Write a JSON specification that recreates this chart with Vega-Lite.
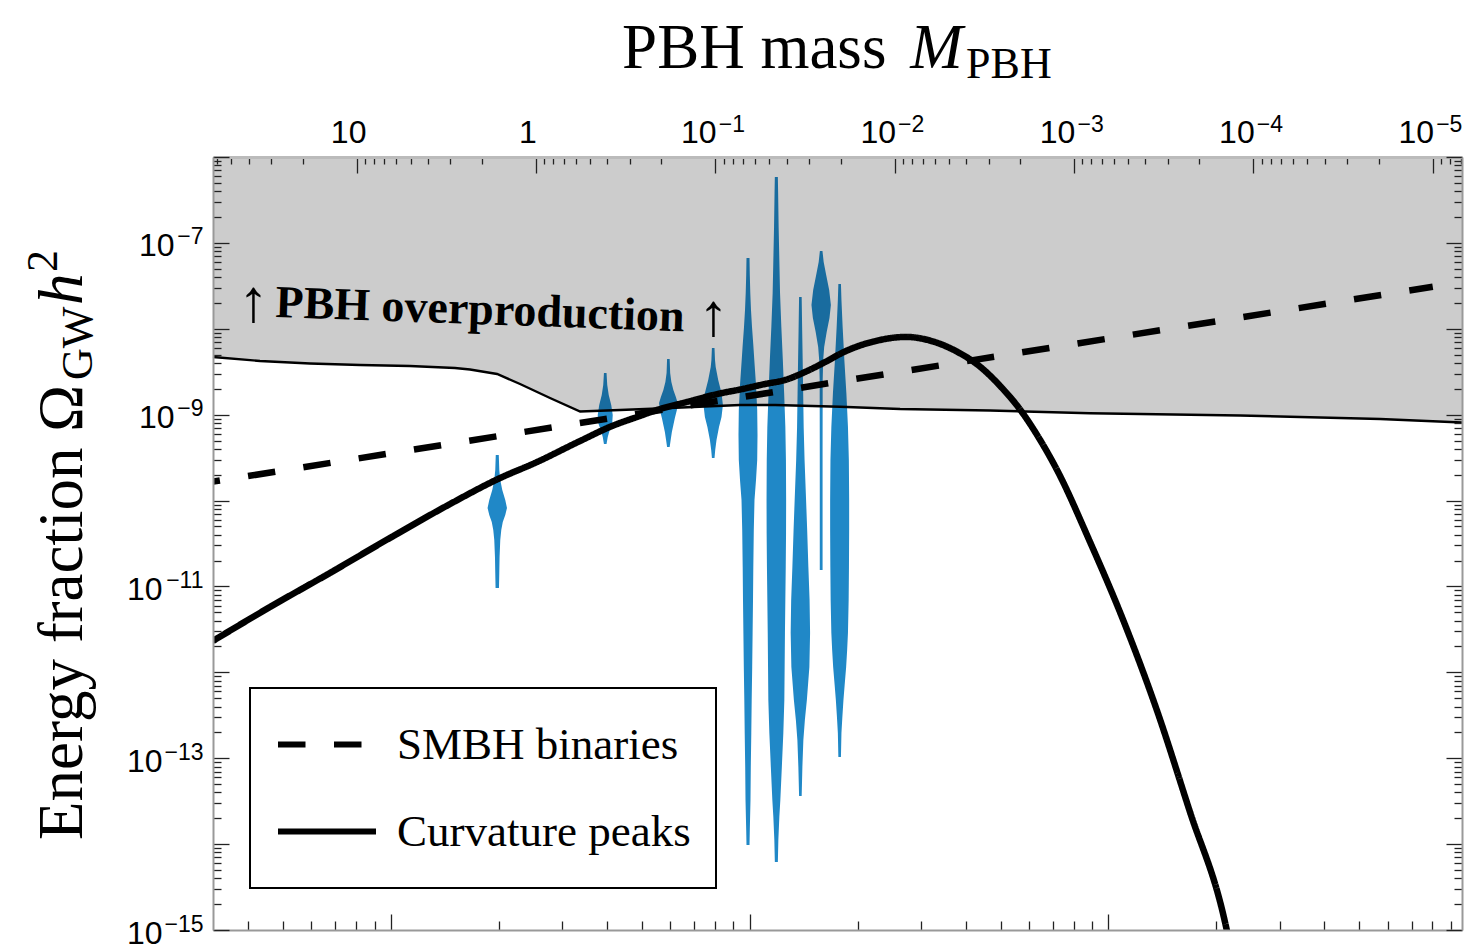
{
  "$schema": "https://vega.github.io/schema/vega-lite/v6.json",
  "width": 1249,
  "height": 773,
  "autosize": {"type": "none"},
  "padding": {"left": 213, "top": 157, "right": 10, "bottom": 15},
  "background": "white",
  "config": {"view": {"stroke": null}, "axis": {"grid": false}},
  "resolve": {"axis": {"x": "independent", "y": "independent"}},
  "datasets": {
    "violins": [
      {"violin": 1, "log10_Omega": -9.469, "log10_M_max": 0.2244, "log10_M_min": 0.2076},
      {"violin": 1, "log10_Omega": -9.644, "log10_M_max": 0.2272, "log10_M_min": 0.2048},
      {"violin": 1, "log10_Omega": -9.760, "log10_M_max": 0.2327, "log10_M_min": 0.1993},
      {"violin": 1, "log10_Omega": -9.877, "log10_M_max": 0.2439, "log10_M_min": 0.1881},
      {"violin": 1, "log10_Omega": -9.993, "log10_M_max": 0.2606, "log10_M_min": 0.1714},
      {"violin": 1, "log10_Omega": -10.086, "log10_M_max": 0.2701, "log10_M_min": 0.1619},
      {"violin": 1, "log10_Omega": -10.168, "log10_M_max": 0.2606, "log10_M_min": 0.1714},
      {"violin": 1, "log10_Omega": -10.249, "log10_M_max": 0.2467, "log10_M_min": 0.1853},
      {"violin": 1, "log10_Omega": -10.342, "log10_M_max": 0.2383, "log10_M_min": 0.1937},
      {"violin": 1, "log10_Omega": -10.459, "log10_M_max": 0.2327, "log10_M_min": 0.1993},
      {"violin": 1, "log10_Omega": -10.657, "log10_M_max": 0.2288, "log10_M_min": 0.2032},
      {"violin": 1, "log10_Omega": -10.843, "log10_M_max": 0.2272, "log10_M_min": 0.2048},
      {"violin": 1, "log10_Omega": -11.018, "log10_M_max": 0.2255, "log10_M_min": 0.2065},

      {"violin": 2, "log10_Omega": -8.515, "log10_M_max": -0.3788, "log10_M_min": -0.3932},
      {"violin": 2, "log10_Omega": -8.654, "log10_M_max": -0.3748, "log10_M_min": -0.3972},
      {"violin": 2, "log10_Omega": -8.771, "log10_M_max": -0.3665, "log10_M_min": -0.4055},
      {"violin": 2, "log10_Omega": -8.887, "log10_M_max": -0.3525, "log10_M_min": -0.4195},
      {"violin": 2, "log10_Omega": -9.004, "log10_M_max": -0.3442, "log10_M_min": -0.4278},
      {"violin": 2, "log10_Omega": -9.097, "log10_M_max": -0.3470, "log10_M_min": -0.4250},
      {"violin": 2, "log10_Omega": -9.178, "log10_M_max": -0.3609, "log10_M_min": -0.4111},
      {"violin": 2, "log10_Omega": -9.260, "log10_M_max": -0.3721, "log10_M_min": -0.3999},
      {"violin": 2, "log10_Omega": -9.341, "log10_M_max": -0.3788, "log10_M_min": -0.3932},

      {"violin": 3, "log10_Omega": -8.352, "log10_M_max": -0.7308, "log10_M_min": -0.7452},
      {"violin": 3, "log10_Omega": -8.515, "log10_M_max": -0.7280, "log10_M_min": -0.7480},
      {"violin": 3, "log10_Omega": -8.619, "log10_M_max": -0.7213, "log10_M_min": -0.7547},
      {"violin": 3, "log10_Omega": -8.712, "log10_M_max": -0.7101, "log10_M_min": -0.7659},
      {"violin": 3, "log10_Omega": -8.794, "log10_M_max": -0.6962, "log10_M_min": -0.7798},
      {"violin": 3, "log10_Omega": -8.864, "log10_M_max": -0.6861, "log10_M_min": -0.7899},
      {"violin": 3, "log10_Omega": -8.945, "log10_M_max": -0.6906, "log10_M_min": -0.7854},
      {"violin": 3, "log10_Omega": -9.038, "log10_M_max": -0.7018, "log10_M_min": -0.7742},
      {"violin": 3, "log10_Omega": -9.120, "log10_M_max": -0.7101, "log10_M_min": -0.7659},
      {"violin": 3, "log10_Omega": -9.201, "log10_M_max": -0.7185, "log10_M_min": -0.7575},
      {"violin": 3, "log10_Omega": -9.295, "log10_M_max": -0.7252, "log10_M_min": -0.7508},
      {"violin": 3, "log10_Omega": -9.376, "log10_M_max": -0.7308, "log10_M_min": -0.7452},

      {"violin": 4, "log10_Omega": -8.224, "log10_M_max": -0.9808, "log10_M_min": -0.9952},
      {"violin": 4, "log10_Omega": -8.363, "log10_M_max": -0.9780, "log10_M_min": -0.9980},
      {"violin": 4, "log10_Omega": -8.445, "log10_M_max": -0.9741, "log10_M_min": -1.0019},
      {"violin": 4, "log10_Omega": -8.596, "log10_M_max": -0.9601, "log10_M_min": -1.0159},
      {"violin": 4, "log10_Omega": -8.747, "log10_M_max": -0.9417, "log10_M_min": -1.0343},
      {"violin": 4, "log10_Omega": -8.887, "log10_M_max": -0.9339, "log10_M_min": -1.0421},
      {"violin": 4, "log10_Omega": -9.027, "log10_M_max": -0.9417, "log10_M_min": -1.0343},
      {"violin": 4, "log10_Omega": -9.143, "log10_M_max": -0.9557, "log10_M_min": -1.0203},
      {"violin": 4, "log10_Omega": -9.295, "log10_M_max": -0.9696, "log10_M_min": -1.0064},
      {"violin": 4, "log10_Omega": -9.411, "log10_M_max": -0.9768, "log10_M_min": -0.9992},
      {"violin": 4, "log10_Omega": -9.504, "log10_M_max": -0.9808, "log10_M_min": -0.9952},

      {"violin": 5, "log10_Omega": -7.176, "log10_M_max": -1.1736, "log10_M_min": -1.1904},
      {"violin": 5, "log10_Omega": -7.374, "log10_M_max": -1.1720, "log10_M_min": -1.1920},
      {"violin": 5, "log10_Omega": -7.583, "log10_M_max": -1.1692, "log10_M_min": -1.1948},
      {"violin": 5, "log10_Omega": -7.781, "log10_M_max": -1.1653, "log10_M_min": -1.1987},
      {"violin": 5, "log10_Omega": -7.979, "log10_M_max": -1.1597, "log10_M_min": -1.2043},
      {"violin": 5, "log10_Omega": -8.189, "log10_M_max": -1.1524, "log10_M_min": -1.2116},
      {"violin": 5, "log10_Omega": -8.363, "log10_M_max": -1.1469, "log10_M_min": -1.2171},
      {"violin": 5, "log10_Omega": -8.654, "log10_M_max": -1.1374, "log10_M_min": -1.2266},
      {"violin": 5, "log10_Omega": -8.945, "log10_M_max": -1.1307, "log10_M_min": -1.2333},
      {"violin": 5, "log10_Omega": -9.236, "log10_M_max": -1.1290, "log10_M_min": -1.2350},
      {"violin": 5, "log10_Omega": -9.527, "log10_M_max": -1.1307, "log10_M_min": -1.2333},
      {"violin": 5, "log10_Omega": -9.760, "log10_M_max": -1.1374, "log10_M_min": -1.2266},
      {"violin": 5, "log10_Omega": -9.993, "log10_M_max": -1.1458, "log10_M_min": -1.2182},
      {"violin": 5, "log10_Omega": -10.342, "log10_M_max": -1.1497, "log10_M_min": -1.2143},
      {"violin": 5, "log10_Omega": -10.773, "log10_M_max": -1.1524, "log10_M_min": -1.2116},
      {"violin": 5, "log10_Omega": -11.157, "log10_M_max": -1.1541, "log10_M_min": -1.2099},
      {"violin": 5, "log10_Omega": -11.541, "log10_M_max": -1.1563, "log10_M_min": -1.2077},
      {"violin": 5, "log10_Omega": -11.937, "log10_M_max": -1.1586, "log10_M_min": -1.2054},
      {"violin": 5, "log10_Omega": -12.321, "log10_M_max": -1.1614, "log10_M_min": -1.2026},
      {"violin": 5, "log10_Omega": -12.705, "log10_M_max": -1.1636, "log10_M_min": -1.2004},
      {"violin": 5, "log10_Omega": -13.101, "log10_M_max": -1.1664, "log10_M_min": -1.1976},
      {"violin": 5, "log10_Omega": -13.485, "log10_M_max": -1.1681, "log10_M_min": -1.1959},
      {"violin": 5, "log10_Omega": -13.835, "log10_M_max": -1.1720, "log10_M_min": -1.1920},
      {"violin": 5, "log10_Omega": -14.009, "log10_M_max": -1.1736, "log10_M_min": -1.1904},

      {"violin": 6, "log10_Omega": -6.233, "log10_M_max": -1.3316, "log10_M_min": -1.3484},
      {"violin": 6, "log10_Omega": -6.419, "log10_M_max": -1.3300, "log10_M_min": -1.3500},
      {"violin": 6, "log10_Omega": -6.815, "log10_M_max": -1.3272, "log10_M_min": -1.3528},
      {"violin": 6, "log10_Omega": -7.199, "log10_M_max": -1.3233, "log10_M_min": -1.3567},
      {"violin": 6, "log10_Omega": -7.583, "log10_M_max": -1.3194, "log10_M_min": -1.3606},
      {"violin": 6, "log10_Omega": -7.979, "log10_M_max": -1.3121, "log10_M_min": -1.3679},
      {"violin": 6, "log10_Omega": -8.363, "log10_M_max": -1.3038, "log10_M_min": -1.3762},
      {"violin": 6, "log10_Omega": -8.747, "log10_M_max": -1.2965, "log10_M_min": -1.3835},
      {"violin": 6, "log10_Omega": -9.143, "log10_M_max": -1.2898, "log10_M_min": -1.3902},
      {"violin": 6, "log10_Omega": -9.527, "log10_M_max": -1.2865, "log10_M_min": -1.3935},
      {"violin": 6, "log10_Omega": -9.993, "log10_M_max": -1.2854, "log10_M_min": -1.3946},
      {"violin": 6, "log10_Omega": -10.377, "log10_M_max": -1.2859, "log10_M_min": -1.3941},
      {"violin": 6, "log10_Omega": -10.773, "log10_M_max": -1.2876, "log10_M_min": -1.3924},
      {"violin": 6, "log10_Omega": -11.157, "log10_M_max": -1.2898, "log10_M_min": -1.3902},
      {"violin": 6, "log10_Omega": -11.541, "log10_M_max": -1.2920, "log10_M_min": -1.3880},
      {"violin": 6, "log10_Omega": -11.937, "log10_M_max": -1.2937, "log10_M_min": -1.3863},
      {"violin": 6, "log10_Omega": -12.321, "log10_M_max": -1.2954, "log10_M_min": -1.3846},
      {"violin": 6, "log10_Omega": -12.705, "log10_M_max": -1.3010, "log10_M_min": -1.3790},
      {"violin": 6, "log10_Omega": -13.101, "log10_M_max": -1.3093, "log10_M_min": -1.3707},
      {"violin": 6, "log10_Omega": -13.485, "log10_M_max": -1.3177, "log10_M_min": -1.3623},
      {"violin": 6, "log10_Omega": -13.683, "log10_M_max": -1.3233, "log10_M_min": -1.3567},
      {"violin": 6, "log10_Omega": -13.951, "log10_M_max": -1.3288, "log10_M_min": -1.3512},
      {"violin": 6, "log10_Omega": -14.207, "log10_M_max": -1.3316, "log10_M_min": -1.3484},

      {"violin": 7, "log10_Omega": -7.630, "log10_M_max": -1.4668, "log10_M_min": -1.4812},
      {"violin": 7, "log10_Omega": -8.014, "log10_M_max": -1.4640, "log10_M_min": -1.4840},
      {"violin": 7, "log10_Omega": -8.363, "log10_M_max": -1.4612, "log10_M_min": -1.4868},
      {"violin": 7, "log10_Omega": -8.747, "log10_M_max": -1.4584, "log10_M_min": -1.4896},
      {"violin": 7, "log10_Omega": -9.143, "log10_M_max": -1.4556, "log10_M_min": -1.4924},
      {"violin": 7, "log10_Omega": -9.527, "log10_M_max": -1.4506, "log10_M_min": -1.4974},
      {"violin": 7, "log10_Omega": -9.993, "log10_M_max": -1.4422, "log10_M_min": -1.5058},
      {"violin": 7, "log10_Omega": -10.342, "log10_M_max": -1.4361, "log10_M_min": -1.5119},
      {"violin": 7, "log10_Omega": -10.773, "log10_M_max": -1.4294, "log10_M_min": -1.5186},
      {"violin": 7, "log10_Omega": -11.157, "log10_M_max": -1.4227, "log10_M_min": -1.5253},
      {"violin": 7, "log10_Omega": -11.541, "log10_M_max": -1.4199, "log10_M_min": -1.5281},
      {"violin": 7, "log10_Omega": -11.937, "log10_M_max": -1.4238, "log10_M_min": -1.5242},
      {"violin": 7, "log10_Omega": -12.321, "log10_M_max": -1.4378, "log10_M_min": -1.5102},
      {"violin": 7, "log10_Omega": -12.554, "log10_M_max": -1.4489, "log10_M_min": -1.4991},
      {"violin": 7, "log10_Omega": -12.787, "log10_M_max": -1.4573, "log10_M_min": -1.4907},
      {"violin": 7, "log10_Omega": -13.101, "log10_M_max": -1.4628, "log10_M_min": -1.4852},
      {"violin": 7, "log10_Omega": -13.439, "log10_M_max": -1.4668, "log10_M_min": -1.4812},

      {"violin": 8, "log10_Omega": -7.094, "log10_M_max": -1.5828, "log10_M_min": -1.5972},
      {"violin": 8, "log10_Omega": -7.222, "log10_M_max": -1.5761, "log10_M_min": -1.6039},
      {"violin": 8, "log10_Omega": -7.374, "log10_M_max": -1.5621, "log10_M_min": -1.6179},
      {"violin": 8, "log10_Omega": -7.548, "log10_M_max": -1.5454, "log10_M_min": -1.6346},
      {"violin": 8, "log10_Omega": -7.723, "log10_M_max": -1.5359, "log10_M_min": -1.6441},
      {"violin": 8, "log10_Omega": -7.874, "log10_M_max": -1.5437, "log10_M_min": -1.6363},
      {"violin": 8, "log10_Omega": -8.037, "log10_M_max": -1.5593, "log10_M_min": -1.6207},
      {"violin": 8, "log10_Omega": -8.212, "log10_M_max": -1.5733, "log10_M_min": -1.6067},
      {"violin": 8, "log10_Omega": -8.363, "log10_M_max": -1.5788, "log10_M_min": -1.6012},
      {"violin": 8, "log10_Omega": -8.596, "log10_M_max": -1.5816, "log10_M_min": -1.5984},
      {"violin": 8, "log10_Omega": -9.411, "log10_M_max": -1.5822, "log10_M_min": -1.5978},
      {"violin": 8, "log10_Omega": -10.808, "log10_M_max": -1.5822, "log10_M_min": -1.5978},

      {"violin": 9, "log10_Omega": -7.478, "log10_M_max": -1.6858, "log10_M_min": -1.7002},
      {"violin": 9, "log10_Omega": -7.665, "log10_M_max": -1.6830, "log10_M_min": -1.7030},
      {"violin": 9, "log10_Omega": -7.979, "log10_M_max": -1.6763, "log10_M_min": -1.7097},
      {"violin": 9, "log10_Omega": -8.363, "log10_M_max": -1.6668, "log10_M_min": -1.7192},
      {"violin": 9, "log10_Omega": -8.747, "log10_M_max": -1.6556, "log10_M_min": -1.7304},
      {"violin": 9, "log10_Omega": -9.143, "log10_M_max": -1.6467, "log10_M_min": -1.7393},
      {"violin": 9, "log10_Omega": -9.527, "log10_M_max": -1.6417, "log10_M_min": -1.7443},
      {"violin": 9, "log10_Omega": -9.993, "log10_M_max": -1.6400, "log10_M_min": -1.7460},
      {"violin": 9, "log10_Omega": -10.342, "log10_M_max": -1.6400, "log10_M_min": -1.7460},
      {"violin": 9, "log10_Omega": -10.773, "log10_M_max": -1.6411, "log10_M_min": -1.7449},
      {"violin": 9, "log10_Omega": -11.157, "log10_M_max": -1.6428, "log10_M_min": -1.7432},
      {"violin": 9, "log10_Omega": -11.541, "log10_M_max": -1.6467, "log10_M_min": -1.7393},
      {"violin": 9, "log10_Omega": -11.739, "log10_M_max": -1.6512, "log10_M_min": -1.7348},
      {"violin": 9, "log10_Omega": -11.937, "log10_M_max": -1.6568, "log10_M_min": -1.7292},
      {"violin": 9, "log10_Omega": -12.147, "log10_M_max": -1.6651, "log10_M_min": -1.7209},
      {"violin": 9, "log10_Omega": -12.321, "log10_M_max": -1.6718, "log10_M_min": -1.7142},
      {"violin": 9, "log10_Omega": -12.519, "log10_M_max": -1.6779, "log10_M_min": -1.7081},
      {"violin": 9, "log10_Omega": -12.705, "log10_M_max": -1.6830, "log10_M_min": -1.7030},
      {"violin": 9, "log10_Omega": -12.985, "log10_M_max": -1.6858, "log10_M_min": -1.7002}
    ],
    "boundary": [
      {"log10_M": 1.801, "log10_Omega": -8.328},
      {"log10_M": 1.539, "log10_Omega": -8.375},
      {"log10_M": 1.260, "log10_Omega": -8.404},
      {"log10_M": 0.981, "log10_Omega": -8.421},
      {"log10_M": 0.703, "log10_Omega": -8.433},
      {"log10_M": 0.452, "log10_Omega": -8.456},
      {"log10_M": 0.368, "log10_Omega": -8.474},
      {"log10_M": 0.217, "log10_Omega": -8.526},
      {"log10_M": 0.089, "log10_Omega": -8.643},
      {"log10_M": -0.078, "log10_Omega": -8.806},
      {"log10_M": -0.246, "log10_Omega": -8.963},
      {"log10_M": -0.469, "log10_Omega": -8.945},
      {"log10_M": -0.747, "log10_Omega": -8.922},
      {"log10_M": -1.138, "log10_Omega": -8.887},
      {"log10_M": -1.333, "log10_Omega": -8.887},
      {"log10_M": -1.695, "log10_Omega": -8.907},
      {"log10_M": -2.030, "log10_Omega": -8.934},
      {"log10_M": -2.532, "log10_Omega": -8.951},
      {"log10_M": -3.089, "log10_Omega": -8.984},
      {"log10_M": -3.926, "log10_Omega": -9.009},
      {"log10_M": -4.707, "log10_Omega": -9.050},
      {"log10_M": -5.163, "log10_Omega": -9.092}
    ],
    "curves": [
      {"series": "SMBH binaries", "log10_M": 1.801, "log10_Omega": -9.780},
      {"series": "SMBH binaries", "log10_M": -5.0, "log10_Omega": -7.510},
      {"series": "Curvature peaks", "log10_M": 1.801, "log10_Omega": -11.634},
      {"series": "Curvature peaks", "log10_M": 1.483, "log10_Omega": -11.239},
      {"series": "Curvature peaks", "log10_M": 1.149, "log10_Omega": -10.843},
      {"series": "Curvature peaks", "log10_M": 0.814, "log10_Omega": -10.435},
      {"series": "Curvature peaks", "log10_M": 0.479, "log10_Omega": -10.040},
      {"series": "Curvature peaks", "log10_M": 0.212, "log10_Omega": -9.749},
      {"series": "Curvature peaks", "log10_M": -0.006, "log10_Omega": -9.551},
      {"series": "Curvature peaks", "log10_M": -0.246, "log10_Omega": -9.306},
      {"series": "Curvature peaks", "log10_M": -0.424, "log10_Omega": -9.132},
      {"series": "Curvature peaks", "log10_M": -0.563, "log10_Omega": -9.027},
      {"series": "Curvature peaks", "log10_M": -0.675, "log10_Omega": -8.945},
      {"series": "Curvature peaks", "log10_M": -0.842, "log10_Omega": -8.852},
      {"series": "Curvature peaks", "log10_M": -1.026, "log10_Omega": -8.753},
      {"series": "Curvature peaks", "log10_M": -1.138, "log10_Omega": -8.707},
      {"series": "Curvature peaks", "log10_M": -1.277, "log10_Omega": -8.643},
      {"series": "Curvature peaks", "log10_M": -1.389, "log10_Omega": -8.596},
      {"series": "Curvature peaks", "log10_M": -1.500, "log10_Omega": -8.503},
      {"series": "Curvature peaks", "log10_M": -1.612, "log10_Omega": -8.387},
      {"series": "Curvature peaks", "log10_M": -1.723, "log10_Omega": -8.264},
      {"series": "Curvature peaks", "log10_M": -1.879, "log10_Omega": -8.150},
      {"series": "Curvature peaks", "log10_M": -2.063, "log10_Omega": -8.095},
      {"series": "Curvature peaks", "log10_M": -2.214, "log10_Omega": -8.148},
      {"series": "Curvature peaks", "log10_M": -2.348, "log10_Omega": -8.267},
      {"series": "Curvature peaks", "log10_M": -2.476, "log10_Omega": -8.441},
      {"series": "Curvature peaks", "log10_M": -2.588, "log10_Omega": -8.666},
      {"series": "Curvature peaks", "log10_M": -2.699, "log10_Omega": -8.940},
      {"series": "Curvature peaks", "log10_M": -2.811, "log10_Omega": -9.295},
      {"series": "Curvature peaks", "log10_M": -2.905, "log10_Omega": -9.644},
      {"series": "Curvature peaks", "log10_M": -3.089, "log10_Omega": -10.482},
      {"series": "Curvature peaks", "log10_M": -3.273, "log10_Omega": -11.387},
      {"series": "Curvature peaks", "log10_M": -3.463, "log10_Omega": -12.449},
      {"series": "Curvature peaks", "log10_M": -3.647, "log10_Omega": -13.630},
      {"series": "Curvature peaks", "log10_M": -3.831, "log10_Omega": -14.813},
      {"series": "Curvature peaks", "log10_M": -3.887, "log10_Omega": -15.348}
    ]
  },
  "layer": [
    {
      "data": {"name": "violins"},
      "mark": {"type": "area", "orient": "horizontal", "color": "#2088c7", "opacity": 1},
      "encoding": {
        "y": {"field": "log10_Omega", "type": "quantitative",
          "scale": {"type": "linear", "domain": [-15, -6], "nice": false, "zero": false},
          "axis": {
            "orient": "left",
            "values": [-15,-14.699,-14.523,-14.398,-14.301,-14.222,-14.155,-14.097,-14.046,
                       -14,-13.699,-13.523,-13.398,-13.301,-13.222,-13.155,-13.097,-13.046,
                       -13,-12.699,-12.523,-12.398,-12.301,-12.222,-12.155,-12.097,-12.046,
                       -12,-11.699,-11.523,-11.398,-11.301,-11.222,-11.155,-11.097,-11.046,
                       -11,-10.699,-10.523,-10.398,-10.301,-10.222,-10.155,-10.097,-10.046,
                       -10,-9.699,-9.523,-9.398,-9.301,-9.222,-9.155,-9.097,-9.046,
                       -9,-8.699,-8.523,-8.398,-8.301,-8.222,-8.155,-8.097,-8.046,
                       -8,-7.699,-7.523,-7.398,-7.301,-7.222,-7.155,-7.097,-7.046,
                       -7,-6.699,-6.523,-6.398,-6.301,-6.222,-6.155,-6.097,-6.046,-6],
            "labelExpr": "indexof([-7, -9, -11, -13, -15], datum.value) >= 0 ? '10' : ''",
            "labelFont": "Liberation Sans", "labelFontSize": 32, "labelColor": "black",
            "labelPadding": {"condition": {"test": "datum.value <= -10", "value": 67}, "value": 55},
            "labelOffset": 3,
            "labelFlush": false, "labelOverlap": false, "labelBound": false,
            "tickSize": {"condition": {"test": "abs(datum.value - round(datum.value)) < 0.001", "value": -16}, "value": -8},
            "tickColor": "#222222", "tickWidth": 1.3,
            "domainColor": "#999999", "domainWidth": 2,
            "title": null, "grid": false, "zindex": 1
          }
        },
        "x": {"field": "log10_M_max", "type": "quantitative", "stack": null,
          "scale": {"type": "linear", "domain": [1.801, -5.163], "nice": false, "zero": false},
          "axis": {
            "orient": "top",
            "values": [1.778,1.699,1.602,1.477,1.301,1,
                       0.954,0.903,0.845,0.778,0.699,0.602,0.477,0.301,0,
                       -0.046,-0.097,-0.155,-0.222,-0.301,-0.398,-0.523,-0.699,-1,
                       -1.046,-1.097,-1.155,-1.222,-1.301,-1.398,-1.523,-1.699,-2,
                       -2.046,-2.097,-2.155,-2.222,-2.301,-2.398,-2.523,-2.699,-3,
                       -3.046,-3.097,-3.155,-3.222,-3.301,-3.398,-3.523,-3.699,-4,
                       -4.046,-4.097,-4.155,-4.222,-4.301,-4.398,-4.523,-4.699,-5,
                       -5.046,-5.097,-5.155],
            "labelExpr": "datum.value == 0 ? '1' : (abs(datum.value - round(datum.value)) < 0.001 ? '10' : '')",
            "labelFont": "Liberation Sans", "labelFontSize": 32, "labelColor": "black",
            "labelPadding": 24,
            "labelOffset": {"condition": {"test": "datum.value >= 0", "value": -8.5}, "value": -17},
            "labelFlush": false, "labelOverlap": false, "labelBound": false,
            "tickSize": {"condition": {"test": "abs(datum.value - round(datum.value)) < 0.001", "value": -16}, "value": -7},
            "tickColor": "#222222", "tickWidth": 1.3,
            "domainColor": "#bbbbbb", "domainWidth": 3,
            "title": null, "grid": false, "zindex": 1
          }
        },
        "x2": {"field": "log10_M_min"},
        "detail": {"field": "violin", "type": "nominal"}
      }
    },
    {
      "data": {"name": "boundary"},
      "mark": {"type": "area", "color": "black", "fillOpacity": 0.2},
      "encoding": {
        "x": {"field": "log10_M", "type": "quantitative", "stack": null,
          "scale": {"type": "linear", "domain": [1.801, -5.163], "nice": false, "zero": false},
          "axis": {
            "orient": "bottom",
            "values": [1.604,1.410,1.252,1.118,1.002,0.900,0.808,
                       0.206,-0.146,-0.396,-0.590,-0.748,-0.882,-0.998,-1.100,-1.192,
                       -1.794,-2.146,-2.396,-2.590,-2.748,-2.882,-2.998,-3.100,-3.192,
                       -3.794,-4.146,-4.396,-4.590,-4.748,-4.882,-4.998,-5.100],
            "labels": false,
            "tickSize": {"condition": {"test": "indexof([0.808, -1.192, -3.192], datum.value) >= 0", "value": -16}, "value": -9},
            "tickColor": "#222222", "tickWidth": 1.3,
            "domainColor": "#999999", "domainWidth": 2,
            "title": null, "grid": false, "zindex": 1
          }
        },
        "y": {"field": "log10_Omega", "type": "quantitative",
          "scale": {"type": "linear", "domain": [-15, -6], "nice": false, "zero": false},
          "axis": {
            "orient": "right",
            "values": [-15,-14.699,-14.523,-14.398,-14.301,-14.222,-14.155,-14.097,-14.046,
                       -14,-13.699,-13.523,-13.398,-13.301,-13.222,-13.155,-13.097,-13.046,
                       -13,-12.699,-12.523,-12.398,-12.301,-12.222,-12.155,-12.097,-12.046,
                       -12,-11.699,-11.523,-11.398,-11.301,-11.222,-11.155,-11.097,-11.046,
                       -11,-10.699,-10.523,-10.398,-10.301,-10.222,-10.155,-10.097,-10.046,
                       -10,-9.699,-9.523,-9.398,-9.301,-9.222,-9.155,-9.097,-9.046,
                       -9,-8.699,-8.523,-8.398,-8.301,-8.222,-8.155,-8.097,-8.046,
                       -8,-7.699,-7.523,-7.398,-7.301,-7.222,-7.155,-7.097,-7.046,
                       -7,-6.699,-6.523,-6.398,-6.301,-6.222,-6.155,-6.097,-6.046,-6],
            "labels": false,
            "tickSize": {"condition": {"test": "abs(datum.value - round(datum.value)) < 0.001", "value": -16}, "value": -8},
            "tickColor": "#222222", "tickWidth": 1.3,
            "domainColor": "#999999", "domainWidth": 2,
            "title": null, "grid": false, "zindex": 1
          }
        },
        "y2": {"datum": -6}
      }
    },
    {
      "data": {"name": "boundary"},
      "mark": {"type": "line", "color": "black", "strokeWidth": 2.4},
      "encoding": {
        "x": {"field": "log10_M", "type": "quantitative",
          "scale": {"type": "linear", "domain": [1.801, -5.163], "nice": false, "zero": false},
          "axis": {
            "orient": "top", "values": [-1, -2, -3, -4, -5],
            "labelExpr": "'−' + (-datum.value)",
            "labelFont": "Liberation Sans", "labelFontSize": 23, "labelColor": "black",
            "labelPadding": 37, "labelOffset": 16,
            "labelFlush": false, "labelOverlap": false, "labelBound": false,
            "tickSize": -16, "tickOpacity": 0, "domain": false,
            "title": null, "grid": false, "zindex": 1
          }
        },
        "y": {"field": "log10_Omega", "type": "quantitative",
          "scale": {"type": "linear", "domain": [-15, -6], "nice": false, "zero": false},
          "axis": {
            "orient": "left", "values": [-7, -9, -11, -13, -15],
            "labelExpr": "'−' + (-datum.value)",
            "labelFont": "Liberation Sans", "labelFontSize": 23, "labelColor": "black",
            "labelPadding": 26, "labelOffset": -6,
            "labelFlush": false, "labelOverlap": false, "labelBound": false,
            "tickSize": -16, "tickOpacity": 0, "domain": false,
            "title": null, "grid": false, "zindex": 1
          }
        }
      }
    },
    {
      "data": {"name": "curves"},
      "mark": {"type": "line", "color": "black", "strokeWidth": 6.5, "clip": true, "strokeDashOffset": 20.5, "interpolate": "monotone"},
      "encoding": {
        "x": {"field": "log10_M", "type": "quantitative", "axis": null,
          "scale": {"type": "linear", "domain": [1.801, -5.163], "nice": false, "zero": false}},
        "y": {"field": "log10_Omega", "type": "quantitative", "axis": null,
          "scale": {"type": "linear", "domain": [-15, -6], "nice": false, "zero": false}},
        "strokeDash": {"field": "series", "type": "nominal",
          "scale": {"domain": ["SMBH binaries", "Curvature peaks"], "range": [[27.5, 28.5], [1, 0]]},
          "legend": {
            "orient": "none", "legendX": 37, "legendY": 531, "title": null, "direction": "vertical",
            "fillColor": "white", "strokeColor": "black", "padding": 25, "cornerRadius": 0,
            "labelFont": "Liberation Serif", "labelFontSize": 45, "labelColor": "black",
            "labelOffset": 18, "labelLimit": 600,
            "symbolType": "stroke", "symbolSize": 9604, "symbolStrokeWidth": 6, "symbolStrokeColor": "black",
            "clipHeight": 63, "rowPadding": 24,
            "encode": {"legend": {"update": {"strokeWidth": {"value": 2}}}}
          }
        }
      }
    },
    {
      "data": {"values": [{"label": "PBH mass", "log10_M": -0.480, "log10_Omega": -4.964}]},
      "mark": {"type": "text", "font": "Liberation Serif", "fontSize": 63, "align": "left", "baseline": "alphabetic", "color": "black"},
      "encoding": {
        "x": {"field": "log10_M", "type": "quantitative", "axis": null, "scale": {"type": "linear", "domain": [1.801, -5.163], "nice": false, "zero": false}},
        "y": {"field": "log10_Omega", "type": "quantitative", "axis": null, "scale": {"type": "linear", "domain": [-15, -6], "nice": false, "zero": false}},
        "text": {"field": "label"}
      }
    },
    {
      "data": {"values": [{"label": "M", "log10_M": -2.086, "log10_Omega": -4.964}]},
      "mark": {"type": "text", "font": "Liberation Serif", "fontSize": 63, "fontStyle": "italic", "align": "left", "baseline": "alphabetic", "color": "black"},
      "encoding": {
        "x": {"field": "log10_M", "type": "quantitative", "axis": null, "scale": {"type": "linear", "domain": [1.801, -5.163], "nice": false, "zero": false}},
        "y": {"field": "log10_Omega", "type": "quantitative", "axis": null, "scale": {"type": "linear", "domain": [-15, -6], "nice": false, "zero": false}},
        "text": {"field": "label"}
      }
    },
    {
      "data": {"values": [{"label": "PBH", "log10_M": -2.398, "log10_Omega": -5.080}]},
      "mark": {"type": "text", "font": "Liberation Serif", "fontSize": 44, "align": "left", "baseline": "alphabetic", "color": "black"},
      "encoding": {
        "x": {"field": "log10_M", "type": "quantitative", "axis": null, "scale": {"type": "linear", "domain": [1.801, -5.163], "nice": false, "zero": false}},
        "y": {"field": "log10_Omega", "type": "quantitative", "axis": null, "scale": {"type": "linear", "domain": [-15, -6], "nice": false, "zero": false}},
        "text": {"field": "label"}
      }
    },
    {
      "data": {"values": [{"label": "Energy fraction Ω", "log10_M": 2.531, "log10_Omega": -13.951}]},
      "mark": {"type": "text", "font": "Liberation Serif", "fontSize": 63, "angle": 270, "align": "left", "baseline": "alphabetic", "color": "black"},
      "encoding": {
        "x": {"field": "log10_M", "type": "quantitative", "axis": null, "scale": {"type": "linear", "domain": [1.801, -5.163], "nice": false, "zero": false}},
        "y": {"field": "log10_Omega", "type": "quantitative", "axis": null, "scale": {"type": "linear", "domain": [-15, -6], "nice": false, "zero": false}},
        "text": {"field": "label"}
      }
    },
    {
      "data": {"values": [{"label": "GW", "log10_M": 2.476, "log10_Omega": -8.596}]},
      "mark": {"type": "text", "font": "Liberation Serif", "fontSize": 44, "angle": 270, "align": "left", "baseline": "alphabetic", "color": "black"},
      "encoding": {
        "x": {"field": "log10_M", "type": "quantitative", "axis": null, "scale": {"type": "linear", "domain": [1.801, -5.163], "nice": false, "zero": false}},
        "y": {"field": "log10_Omega", "type": "quantitative", "axis": null, "scale": {"type": "linear", "domain": [-15, -6], "nice": false, "zero": false}},
        "text": {"field": "label"}
      }
    },
    {
      "data": {"values": [{"label": "h", "log10_M": 2.531, "log10_Omega": -7.723}]},
      "mark": {"type": "text", "font": "Liberation Serif", "fontSize": 63, "fontStyle": "italic", "angle": 270, "align": "left", "baseline": "alphabetic", "color": "black"},
      "encoding": {
        "x": {"field": "log10_M", "type": "quantitative", "axis": null, "scale": {"type": "linear", "domain": [1.801, -5.163], "nice": false, "zero": false}},
        "y": {"field": "log10_Omega", "type": "quantitative", "axis": null, "scale": {"type": "linear", "domain": [-15, -6], "nice": false, "zero": false}},
        "text": {"field": "label"}
      }
    },
    {
      "data": {"values": [{"label": "2", "log10_M": 2.671, "log10_Omega": -7.339}]},
      "mark": {"type": "text", "font": "Liberation Serif", "fontSize": 44, "angle": 270, "align": "left", "baseline": "alphabetic", "color": "black"},
      "encoding": {
        "x": {"field": "log10_M", "type": "quantitative", "axis": null, "scale": {"type": "linear", "domain": [1.801, -5.163], "nice": false, "zero": false}},
        "y": {"field": "log10_Omega", "type": "quantitative", "axis": null, "scale": {"type": "linear", "domain": [-15, -6], "nice": false, "zero": false}},
        "text": {"field": "label"}
      }
    },
    {
      "data": {"values": [{"label": "↑", "log10_M": 1.660, "log10_Omega": -7.910}, {"label": "↑", "log10_M": -0.905, "log10_Omega": -8.075}]},
      "mark": {"type": "text", "font": "Liberation Serif", "fontSize": 60, "align": "left", "baseline": "alphabetic", "color": "black"},
      "encoding": {
        "x": {"field": "log10_M", "type": "quantitative", "axis": null, "scale": {"type": "linear", "domain": [1.801, -5.163], "nice": false, "zero": false}},
        "y": {"field": "log10_Omega", "type": "quantitative", "axis": null, "scale": {"type": "linear", "domain": [-15, -6], "nice": false, "zero": false}},
        "text": {"field": "label"}
      }
    },
    {
      "data": {"values": [{"label": "PBH overproduction", "log10_M": 1.455, "log10_Omega": -7.863}]},
      "mark": {"type": "text", "font": "Liberation Serif", "fontSize": 46, "fontWeight": "bold", "angle": 2, "align": "left", "baseline": "alphabetic", "color": "black"},
      "encoding": {
        "x": {"field": "log10_M", "type": "quantitative", "axis": null, "scale": {"type": "linear", "domain": [1.801, -5.163], "nice": false, "zero": false}},
        "y": {"field": "log10_Omega", "type": "quantitative", "axis": null, "scale": {"type": "linear", "domain": [-15, -6], "nice": false, "zero": false}},
        "text": {"field": "label"}
      }
    }
  ]
}
